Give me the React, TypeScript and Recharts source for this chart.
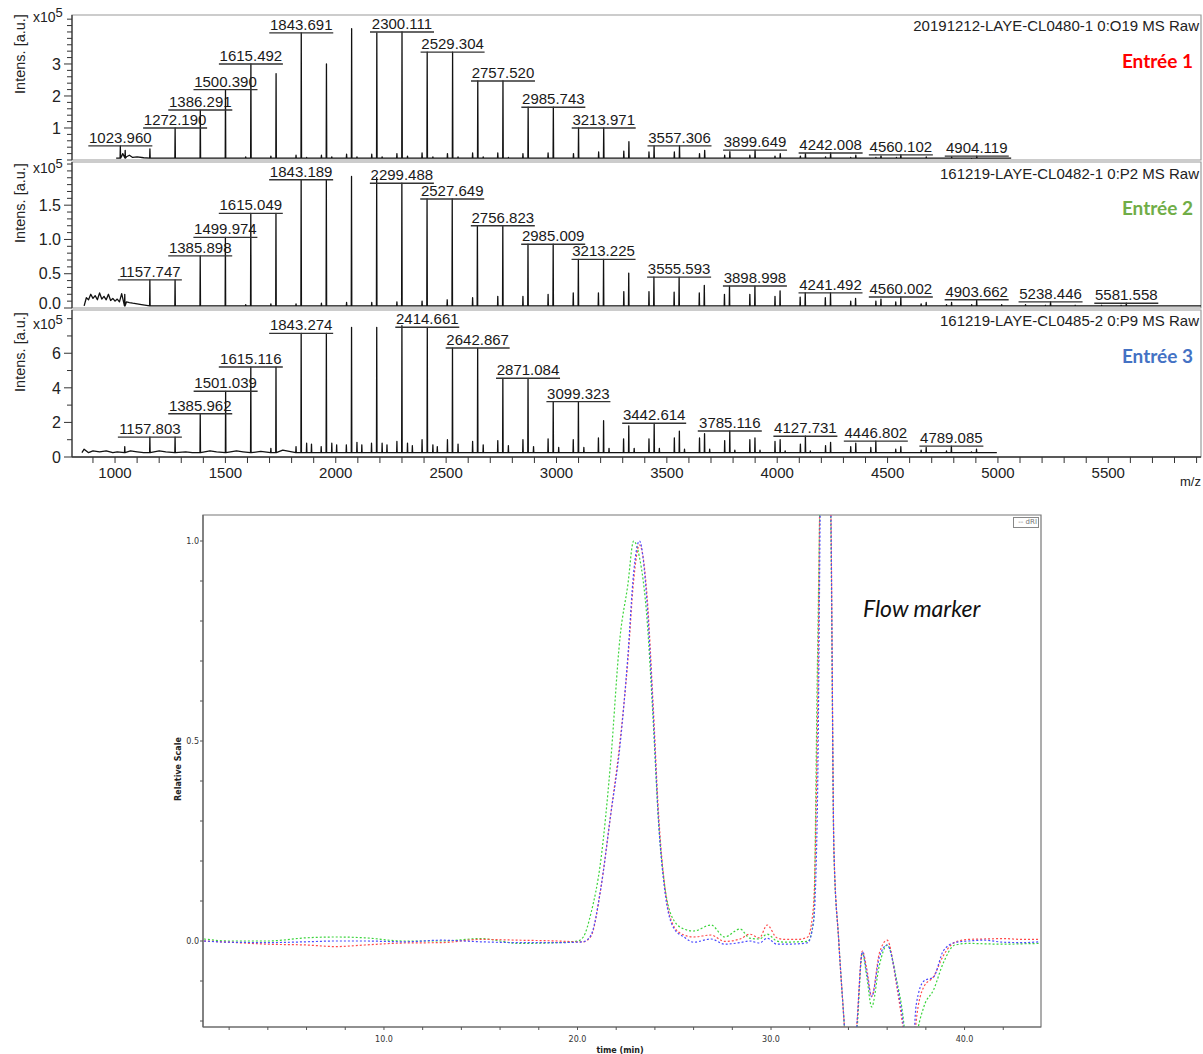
import React from "react";
import { ComposedChart, LineChart, Line, Scatter, XAxis, YAxis, ReferenceArea } from "recharts";

type Peak = [number, number];

const FONT_ARIAL = '"Liberation Sans", Arial, sans-serif';
const FONT_SMALL = '"DejaVu Sans", Verdana, sans-serif';

// ---------- Mass spectra (m/z axis) ----------
const MZ_DOMAIN: [number, number] = [805, 5920];
const MZ_TICKS = [900, 1000, 1100, 1200, 1300, 1400, 1500, 1600, 1700, 1800, 1900, 2000, 2100, 2200, 2300, 2400, 2500, 2600, 2700, 2800, 2900, 3000, 3100, 3200, 3300, 3400, 3500, 3600, 3700, 3800, 3900, 4000, 4100, 4200, 4300, 4400, 4500, 4600, 4700, 4800, 4900, 5000, 5100, 5200, 5300, 5400, 5500, 5600, 5700, 5800, 5900];
const MZ_TICK_LABELS = [1000, 1500, 2000, 2500, 3000, 3500, 4000, 4500, 5000, 5500];

// Panel 1 (Entrée 1) intensities in x10^5
const P1_PEAKS: Peak[] = [[1023.96, 0.44], [1046, 0.3], [1158, 0.35], [1272.19, 1.0], [1386.291, 1.56], [1500.39, 2.2], [1615.492, 3.0], [1729.6, 2.7], [1843.691, 3.97], [1957.8, 3.0], [2071.9, 4.1], [2186.0, 3.97], [2300.111, 4.0], [2414.2, 3.37], [2529.304, 3.37], [2643.4, 2.47], [2757.52, 2.47], [2871.6, 1.65], [2985.743, 1.65], [3099.9, 1.0], [3213.971, 1.0], [3328.1, 0.57], [3442.2, 0.44], [3557.306, 0.44], [3671.4, 0.3], [3785.5, 0.26], [3899.649, 0.31], [4013.8, 0.2], [4127.9, 0.2], [4242.008, 0.22], [4356.1, 0.15], [4470.2, 0.13], [4560.102, 0.16], [4675.3, 0.1], [4790.4, 0.1], [4904.119, 0.12], [5018.2, 0.06]];
const P1_SATELLITES: Peak[] = [[1592, 0.1], [1706, 0.12], [1820, 0.15], [1935, 0.15], [2049, 0.18], [2163, 0.18], [2277, 0.2], [2391, 0.22], [2506, 0.2], [2620, 0.22], [2734, 0.22], [2848, 0.2], [2962, 0.22], [3077, 0.2], [3191, 0.25], [3305, 0.28], [3419, 0.25], [3534, 0.25], [3648, 0.2], [3762, 0.15], [3876, 0.15], [3990, 0.12], [4105, 0.12], [4219, 0.1], [4333, 0.08], [4447, 0.08], [4540, 0.08], [4652, 0.06], [4767, 0.06], [4881, 0.05], [1868, 0.08], [1982, 0.1], [2096, 0.1], [2210, 0.1], [2325, 0.12], [2440, 0.1], [2554, 0.1], [2668, 0.1], [2782, 0.08]];
const P1_NOISE: Peak[] = [[1030, 0.12], [1035, 0.2], [1052, 0.1], [1065, 0.15], [1080, 0.08], [1100, 0.1], [1130, 0.07]];
const P1_LABELS = ["1023.960", "1272.190", "1386.291", "1500.390", "1615.492", "1843.691", "2300.111", "2529.304", "2757.520", "2985.743", "3213.971", "3557.306", "3899.649", "4242.008", "4560.102", "4904.119"];

// Panel 2 (Entrée 2)
const P2_PEAKS: Peak[] = [[1044, 0.2], [1157.747, 0.41], [1272.0, 0.41], [1385.898, 0.76], [1499.974, 1.03], [1615.049, 1.38], [1729.1, 1.38], [1843.189, 1.87], [1957.3, 1.87], [2071.4, 1.92], [2185.4, 1.9], [2299.488, 1.82], [2413.6, 1.59], [2527.649, 1.59], [2641.7, 1.2], [2756.823, 1.2], [2870.9, 0.93], [2985.009, 0.93], [3099.1, 0.71], [3213.225, 0.71], [3327.3, 0.51], [3441.4, 0.45], [3555.593, 0.45], [3669.7, 0.33], [3783.8, 0.32], [3898.998, 0.32], [4013, 0.25], [4127, 0.22], [4241.492, 0.22], [4355, 0.14], [4470, 0.13], [4560.002, 0.16], [4675, 0.08], [4790, 0.08], [4903.662, 0.12], [5017, 0.05], [5125, 0.05], [5238.446, 0.09], [5350, 0.04], [5470, 0.04], [5581.558, 0.07], [5700, 0.03], [5820, 0.03]];
const P2_SATELLITES: Peak[] = [[1592, 0.05], [1706, 0.06], [1820, 0.06], [1935, 0.07], [2049, 0.08], [2163, 0.08], [2277, 0.09], [2391, 0.1], [2505, 0.12], [2620, 0.15], [2734, 0.17], [2848, 0.17], [2962, 0.2], [3076, 0.22], [3190, 0.22], [3305, 0.24], [3419, 0.24], [3533, 0.23], [3647, 0.22], [3761, 0.2], [3876, 0.2], [3990, 0.17], [4104, 0.16], [4218, 0.15], [4333, 0.1], [4447, 0.1], [4537, 0.09], [4652, 0.06], [4767, 0.05], [4881, 0.05], [5215, 0.04], [5558, 0.04]];
const P2_NOISE: Peak[] = [[870, 0.15], [880, 0.12], [890, 0.2], [900, 0.14], [910, 0.18], [920, 0.12], [930, 0.22], [940, 0.13], [950, 0.17], [960, 0.12], [970, 0.2], [980, 0.11], [990, 0.14], [1000, 0.1], [1010, 0.13], [1020, 0.09], [1030, 0.21], [1052, 0.09], [1065, 0.08], [1080, 0.07], [1100, 0.06], [1120, 0.05]];
const P2_LABELS = ["1157.747", "1385.898", "1499.974", "1615.049", "1843.189", "2299.488", "2527.649", "2756.823", "2985.009", "3213.225", "3555.593", "3898.998", "4241.492", "4560.002", "4903.662", "5238.446", "5581.558"];

// Panel 3 (Entrée 3)
const P3_PEAKS: Peak[] = [[1044, 0.6], [1157.803, 1.15], [1272.0, 1.15], [1385.962, 2.5], [1501.039, 3.8], [1615.116, 5.2], [1729.2, 5.2], [1843.274, 7.15], [1957.4, 7.15], [2071.5, 7.5], [2185.6, 7.5], [2299.7, 7.6], [2414.661, 7.5], [2528.8, 6.3], [2642.867, 6.3], [2757.0, 4.55], [2871.084, 4.55], [2985.2, 3.2], [3099.323, 3.2], [3213.4, 2.1], [3327.5, 1.8], [3442.614, 1.95], [3556.7, 1.5], [3670.8, 1.35], [3785.116, 1.5], [3899.2, 1.1], [4013.3, 1.0], [4127.731, 1.2], [4241.8, 0.85], [4355.9, 0.8], [4446.802, 0.92], [4560, 0.6], [4675, 0.55], [4789.085, 0.63], [4903, 0.45]];
const P3_SATELLITES: Peak[] = [[1706, 0.5], [1820, 0.6], [1934, 0.6], [2048, 0.7], [2162, 0.8], [2277, 0.9], [2391, 1.0], [2506, 1.0], [2620, 0.9], [2734, 0.95], [2848, 1.0], [2962, 1.05], [3076, 1.0], [3190, 1.1], [3304, 1.05], [3419, 1.05], [3534, 1.1], [3648, 1.1], [3762, 0.95], [3876, 1.0], [3990, 0.9], [4105, 0.75], [4219, 0.65], [4333, 0.6], [4424, 0.55], [4537, 0.45], [4652, 0.4], [4767, 0.35], [4880, 0.3], [1868, 0.8], [1890, 0.75], [1982, 0.8], [2004, 0.7], [2096, 0.85], [2118, 0.7], [2210, 0.8], [2232, 0.7], [2325, 0.8], [2347, 0.65], [2440, 0.7], [2460, 0.6], [2554, 0.75], [2668, 0.7], [2782, 0.65], [2896, 0.6], [3010, 0.55], [3124, 0.55], [3238, 0.5], [3352, 0.5], [3466, 0.5], [3580, 0.45], [3694, 0.45], [3808, 0.4], [3922, 0.4], [4036, 0.35], [4150, 0.35]];
const P3_NOISE: Peak[] = [[860, 0.45], [880, 0.25], [900, 0.35], [930, 0.3], [960, 0.35], [990, 0.25], [1010, 0.3], [1070, 0.35], [1100, 0.3], [1130, 0.25], [1200, 0.35], [1230, 0.3], [1320, 0.3], [1350, 0.25], [1430, 0.35], [1460, 0.3], [1550, 0.35], [1580, 0.3], [1660, 0.32], [1760, 0.4]];
const P3_LABELS = ["1157.803", "1385.962", "1501.039", "1615.116", "1843.274", "2414.661", "2642.867", "2871.084", "3099.323", "3442.614", "3785.116", "4127.731", "4446.802", "4789.085"];

// ---------- SEC chromatogram (dRI, relative scale) ----------
const TIME = [0.7, 2, 4, 6, 7.5, 9, 11, 13, 15, 17, 19, 20.0, 20.3, 20.7, 21.2, 21.7, 22.2, 22.6, 22.9, 23.2, 23.6, 23.9, 24.2, 24.5, 25.0, 25.5, 26.0, 26.9, 27.6, 28.4, 28.9, 29.4, 29.8, 30.3, 30.7, 31.4, 31.9, 32.2, 32.4, 32.6, 32.9, 33.1, 33.25, 33.5, 33.8, 34.1, 34.45, 34.72, 34.95, 35.2, 35.6, 36.0, 36.5, 36.85, 37.2, 37.5, 37.9, 38.4, 38.9, 39.5, 40.2, 41, 42, 43, 43.9];
const RI_BLUE = [0.0, -0.003, -0.004, -0.002, 0.0, 0.0, -0.002, 0.002, -0.002, -0.004, -0.004, -0.003, -0.002, 0.015, 0.13, 0.31, 0.49, 0.71, 0.92, 1.0, 0.84, 0.58, 0.29, 0.13, 0.03, 0.01, -0.003, 0.005, -0.008, -0.004, 0.0, -0.005, 0.007, -0.008, -0.008, -0.007, -0.004, 0.05, 0.35, 1.3, 1.6, 1.05, 0.23, 0.0, -0.22, -0.45, -0.2, -0.027, -0.08, -0.139, -0.04, -0.01, -0.106, -0.215, -0.4, -0.16, -0.1, -0.09, -0.025, -0.004, 0.0, 0.002, -0.003, -0.004, -0.002];
const RI_RED = [0.0, -0.003, -0.008, -0.01, -0.014, -0.01, -0.005, -0.004, 0.004, 0.002, 0.0, -0.002, -0.002, 0.012, 0.13, 0.31, 0.5, 0.7, 0.9, 0.99, 0.86, 0.6, 0.31, 0.14, 0.035, 0.015, 0.01, 0.015, -0.001, 0.005, 0.017, 0.008, 0.04, 0.008, 0.004, 0.004, 0.01, 0.09, 0.55, 1.4, 1.6, 1.05, 0.23, 0.0, -0.22, -0.45, -0.2, -0.025, -0.07, -0.139, -0.03, 0.002, -0.115, -0.23, -0.4, -0.2, -0.114, -0.089, -0.037, -0.003, 0.004, 0.005, 0.006, 0.004, 0.004];
const RI_GREEN = [0.005, 0.0, 0.0, 0.008, 0.01, 0.008, 0.0, 0.0, 0.006, -0.006, -0.004, 0.0, 0.01, 0.07, 0.2, 0.44, 0.76, 0.89, 1.0, 0.96, 0.8, 0.56, 0.29, 0.14, 0.05, 0.03, 0.025, 0.04, 0.01, 0.03, 0.007, 0.005, 0.017, 0.0, -0.003, -0.002, -0.001, 0.05, 0.7, 1.3, 1.6, 1.0, 0.22, 0.0, -0.22, -0.45, -0.22, -0.03, -0.09, -0.165, -0.06, -0.01, -0.1, -0.2, -0.4, -0.25, -0.164, -0.122, -0.055, -0.01, -0.006, -0.007, -0.008, -0.007, -0.006];
const T_DOMAIN: [number, number] = [0.65, 43.95];
const T_TICKS = [2, 4, 6, 8, 10, 12, 14, 16, 18, 20, 22, 24, 26, 28, 30, 32, 34, 36, 38, 40, 42];
const T_TICK_LABELS = [10, 20, 30, 40];
const RS_DOMAIN: [number, number] = [-0.215, 1.065];
const RS_TICKS = [-0.2, -0.1, 0, 0.1, 0.2, 0.3, 0.4, 0.5, 0.6, 0.7, 0.8, 0.9, 1.0];
const RS_TICK_LABELS = [0, 0.5, 1.0];

// ---------- helpers ----------
const buildRows = (peaks: Peak[], sats: Peak[], noise: Peak[], base: number, start: number, end: number) => {
  const rows: { mz: number; v: number }[] = [{ mz: start, v: base }, { mz: end, v: base }];
  [...peaks, ...sats].forEach(([m, h]) => {
    rows.push({ mz: m - 1.2, v: base }, { mz: m, v: h }, { mz: m + 1.2, v: base });
  });
  noise.forEach(([m, h]) => rows.push({ mz: m, v: h }));
  return rows.sort((a, b) => a.mz - b.mz);
};

const makeYTick = (labels: number[], fmt: (v: number) => string, zeroShift: number) => (p: any) => {
  const { x, y, payload } = p;
  const major = labels.some((l) => Math.abs(l - payload.value) < 1e-6);
  const shift = Math.abs(payload.value) < 1e-9 ? zeroShift : 0;
  return (
    <g>
      <line x1={x - (major ? 8 : 5)} x2={x} y1={y} y2={y} stroke="#333" strokeWidth={1} />
      {major && (
        <text x={x - 11} y={y - shift} dy="0.36em" textAnchor="end" fontSize={16} fill="#222" fontFamily={FONT_ARIAL}>
          {fmt(payload.value)}
        </text>
      )}
    </g>
  );
};

const MzTick = (p: any) => {
  const { x, y, payload } = p;
  const lab = MZ_TICK_LABELS.includes(payload.value);
  return (
    <g>
      <line x1={x} x2={x} y1={y} y2={y + 6} stroke="#333" strokeWidth={1} />
      {lab && (
        <text x={x} y={y + 16} dy="0.36em" textAnchor="middle" fontSize={15} fill="#222" fontFamily={FONT_ARIAL}>
          {payload.value}
        </text>
      )}
    </g>
  );
};

const LabelShape = (p: any) => {
  const { cx, cy, payload } = p;
  if (cx == null || cy == null) return <g />;
  const w = 64;
  return (
    <g>
      <text x={cx} y={cy - 3} textAnchor="middle" fontSize={15} fill="#1a1a1a" fontFamily={FONT_ARIAL}>
        {payload.text}
      </text>
      <line x1={cx - w / 2} x2={cx + w / 2} y1={cy} y2={cy} stroke="#333" strokeWidth={1.4} />
    </g>
  );
};

type PanelProps = {
  top: number;
  plotH: number;
  yMax: number;
  yTicks: number[];
  yLabels: number[];
  fmt: (v: number) => string;
  zeroShift: number;
  peaks: Peak[];
  sats: Peak[];
  noise: Peak[];
  base: number;
  start: number;
  end: number;
  labels: string[];
  showX: boolean;
};

function SpectrumPanel(props: PanelProps) {
  const { top, plotH, yMax, yTicks, yLabels, fmt, zeroShift, peaks, sats, noise, base, start, end, labels, showX } = props;
  const rows = buildRows(peaks, sats, noise, base, start, end);
  const labelRows = labels.map((t) => {
    const m = parseFloat(t);
    const pk = peaks.find((q) => Math.abs(q[0] - m) < 0.01);
    return { mz: m, v: pk ? pk[1] : 0, text: t };
  });
  const mt = 10;
  const mb = showX ? 0 : 10;
  const xh = showX ? 40 : 0;
  return (
    <div style={{ position: "absolute", left: 0, top: top - mt }}>
      <ComposedChart width={1203} height={plotH + mt + mb + xh} data={rows} margin={{ top: mt, right: 2, bottom: mb, left: 0 }}>
        <XAxis
          type="number"
          dataKey="mz"
          domain={MZ_DOMAIN}
          allowDataOverflow
          ticks={MZ_TICKS}
          interval={0}
          hide={!showX}
          height={xh}
          tickSize={0}
          tickMargin={0}
          tick={MzTick}
          tickLine={false}
          axisLine={{ stroke: "#333", strokeWidth: 1.5 }}
        />
        <YAxis
          type="number"
          dataKey="v"
          domain={[0, yMax]}
          allowDataOverflow
          ticks={yTicks}
          interval={0}
          width={72}
          tickSize={0}
          tickMargin={0}
          tick={makeYTick(yLabels, fmt, zeroShift)}
          tickLine={false}
          axisLine={{ stroke: "#333", strokeWidth: 1.2 }}
        />
        <ReferenceArea x1={MZ_DOMAIN[0]} x2={MZ_DOMAIN[1]} y1={0} y2={yMax} fill="none" stroke="#9a9a9a" strokeWidth={1.2} ifOverflow="visible" />
        <Line type="linear" dataKey="v" stroke="#111" strokeWidth={1.3} dot={false} isAnimationActive={false} strokeLinejoin="round" />
        <Scatter data={labelRows} shape={(p: any) => <LabelShape {...p} />} isAnimationActive={false} />
      </ComposedChart>
    </div>
  );
}

const TTick = (p: any) => {
  const { x, y, payload } = p;
  const lab = T_TICK_LABELS.includes(payload.value);
  return (
    <g>
      <line x1={x} x2={x} y1={y} y2={y + 3} stroke="#555" />
      {lab && (
        <text x={x} y={y + 12} dy="0.36em" textAnchor="middle" fontSize={8} fill="#333" fontFamily={FONT_SMALL}>
          {payload.value.toFixed(1)}
        </text>
      )}
    </g>
  );
};

const RSTick = (p: any) => {
  const { x, y, payload } = p;
  const lab = RS_TICK_LABELS.some((l) => Math.abs(l - payload.value) < 1e-6);
  return (
    <g>
      <line x1={x - 3} x2={x} y1={y} y2={y} stroke="#555" />
      {lab && (
        <text x={x - 4} y={y} dy="0.36em" textAnchor="end" fontSize={8} fill="#333" fontFamily={FONT_SMALL}>
          {payload.value.toFixed(1)}
        </text>
      )}
    </g>
  );
};

function Chromatogram() {
  const rows = TIME.map((t, i) => ({ t, red: RI_RED[i], green: RI_GREEN[i], blue: RI_BLUE[i] }));
  return (
    <div style={{ position: "absolute", left: 150, top: 500 }}>
      <LineChart width={900} height={554} data={rows} margin={{ top: 15, right: 9, bottom: 0, left: 0 }}>
        <XAxis
          type="number"
          dataKey="t"
          domain={T_DOMAIN}
          allowDataOverflow
          ticks={T_TICKS}
          interval={0}
          height={27}
          tickSize={0}
          tickMargin={0}
          tick={TTick}
          tickLine={false}
          axisLine={{ stroke: "#666", strokeWidth: 1.2 }}
        />
        <YAxis
          type="number"
          domain={RS_DOMAIN}
          allowDataOverflow
          ticks={RS_TICKS}
          interval={0}
          width={53}
          tickSize={0}
          tickMargin={0}
          tick={RSTick}
          tickLine={false}
          axisLine={{ stroke: "#666", strokeWidth: 1.2 }}
        />
        <ReferenceArea x1={T_DOMAIN[0]} x2={T_DOMAIN[1]} y1={RS_DOMAIN[0]} y2={RS_DOMAIN[1]} fill="none" stroke="#777" strokeWidth={1.2} ifOverflow="visible" />
        <Line type="monotone" dataKey="green" stroke="#3ad43a" strokeWidth={1.2} strokeDasharray="2 2" dot={false} isAnimationActive={false} />
        <Line type="monotone" dataKey="red" stroke="#ff4a4a" strokeWidth={1.2} strokeDasharray="2 2" dot={false} isAnimationActive={false} />
        <Line type="monotone" dataKey="blue" stroke="#4a4aff" strokeWidth={1.2} strokeDasharray="2 2" dot={false} isAnimationActive={false} />
      </LineChart>
    </div>
  );
}

const abs = (o: React.CSSProperties): React.CSSProperties => ({ position: "absolute", whiteSpace: "nowrap", ...o });

function X105({ left, top }: { left: number; top: number }) {
  return (
    <div style={abs({ left, top, fontSize: 14, fontFamily: FONT_ARIAL, color: "#222", lineHeight: "16px" })}>
      x10
      <span style={{ position: "relative", top: -5, fontSize: 13 }}>5</span>
    </div>
  );
}

function IntensLabel({ cy }: { cy: number }) {
  return (
    <div
      style={abs({
        left: 20,
        top: cy,
        fontSize: 14.5,
        fontFamily: FONT_ARIAL,
        color: "#222",
        transform: "translate(-50%, -50%) rotate(-90deg)",
      })}
    >
      Intens. [a.u.]
    </div>
  );
}

function Header({ text, cy }: { text: string; cy: number }) {
  return (
    <div style={abs({ left: 700, width: 499, top: cy - 9, textAlign: "right", fontSize: 15, lineHeight: "18px", fontFamily: FONT_ARIAL, color: "#222" })}>
      {text}
    </div>
  );
}

function Entry({ text, cy, color }: { text: string; cy: number; color: string }) {
  return (
    <div style={abs({ left: 900, width: 293, top: cy - 11, textAlign: "right", fontSize: 19, lineHeight: "22px", fontWeight: 700, fontFamily: "Lato, 'Open Sans', sans-serif", color })}>
      {text}
    </div>
  );
}

export default function App() {
  const p1Ticks = Array.from({ length: 23 }, (_, i) => +(i * 0.2).toFixed(1));
  const p2Ticks = Array.from({ length: 22 }, (_, i) => +(i * 0.1).toFixed(1));
  const p3Ticks = [0, 1, 2, 3, 4, 5, 6, 7, 8];
  return (
    <div style={{ position: "absolute", left: 0, top: 0, width: 1203, height: 1054, background: "#fff", overflow: "hidden", fontFamily: FONT_ARIAL }}>
      <SpectrumPanel top={15} plotH={145} yMax={4.53} yTicks={p1Ticks} yLabels={[1, 2, 3]} fmt={(v) => String(v)} zeroShift={0} peaks={P1_PEAKS} sats={P1_SATELLITES} noise={P1_NOISE} base={0.06} start={1005} end={5060} labels={P1_LABELS} showX={false} />
      <SpectrumPanel top={162} plotH={146} yMax={2.13} yTicks={p2Ticks} yLabels={[0, 0.5, 1.0, 1.5]} fmt={(v) => v.toFixed(1)} zeroShift={5} peaks={P2_PEAKS} sats={P2_SATELLITES} noise={P2_NOISE} base={0.03} start={860} end={5920} labels={P2_LABELS} showX={false} />
      <SpectrumPanel top={310} plotH={147} yMax={8.5} yTicks={p3Ticks} yLabels={[0, 2, 4, 6]} fmt={(v) => String(v)} zeroShift={0} peaks={P3_PEAKS} sats={P3_SATELLITES} noise={P3_NOISE} base={0.25} start={850} end={4995} labels={P3_LABELS} showX={true} />

      <X105 left={33} top={9} />
      <X105 left={33} top={160} />
      <X105 left={33} top={316} />
      <IntensLabel cy={54} />
      <IntensLabel cy={203} />
      <IntensLabel cy={352} />
      <Header text="20191212-LAYE-CL0480-1 0:O19 MS Raw" cy={26} />
      <Header text="161219-LAYE-CL0482-1 0:P2 MS Raw" cy={174} />
      <Header text="161219-LAYE-CL0485-2 0:P9 MS Raw" cy={321} />
      <Entry text="Entrée 1" cy={61} color="#ff0000" />
      <Entry text="Entrée 2" cy={208} color="#70ad47" />
      <Entry text="Entrée 3" cy={356} color="#4472c4" />
      <div style={abs({ left: 1180, top: 474, fontSize: 13, fontFamily: FONT_ARIAL, color: "#222" })}>m/z</div>

      <Chromatogram />
      <div style={abs({ left: 863, top: 594, fontSize: 23, lineHeight: "28px", fontStyle: "italic", fontFamily: "Lato, 'Open Sans', sans-serif", color: "#111" })}>Flow marker</div>
      <div style={abs({ left: 178, top: 769, fontSize: 8, fontWeight: 700, fontFamily: FONT_SMALL, color: "#222", transform: "translate(-50%, -50%) rotate(-90deg)" })}>Relative Scale</div>
      <div style={abs({ left: 620, top: 1050, fontSize: 8, fontWeight: 700, fontFamily: FONT_SMALL, color: "#222", transform: "translate(-50%, -50%)" })}>time (min)</div>
      <div style={abs({ left: 1013, top: 517, width: 23, height: 9, border: "1px solid #888", fontSize: 7, lineHeight: "9px", fontFamily: FONT_SMALL, color: "#777", textAlign: "right", paddingRight: 1, boxSizing: "content-box" })}>-- dRI</div>
    </div>
  );
}
